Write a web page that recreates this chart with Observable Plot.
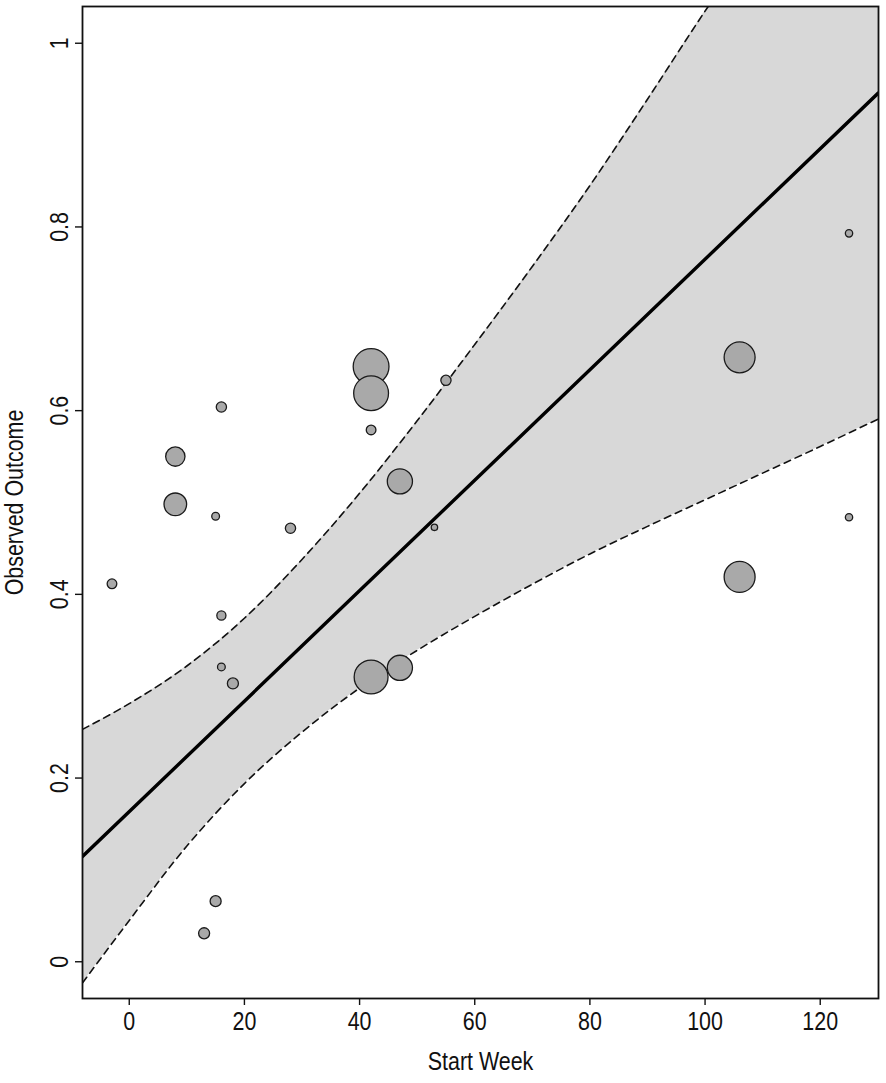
<!DOCTYPE html>
<html>
<head>
<meta charset="utf-8">
<script src="https://cdn.jsdelivr.net/npm/d3@7"></script>
<script src="https://cdn.jsdelivr.net/npm/@observablehq/plot@0.6"></script>
<style>
  html, body { margin: 0; padding: 0; background: #fff; }
</style>
</head>
<body>
<div id="chart"></div>
<script>
// Studies: start week, observed outcome, weight (%)
const startWeek = [-3, 16, 8, 8, 15, 28, 42, 42, 42, 55, 47, 53, 16, 16, 18, 42, 47, 15, 13, 106, 106, 125, 125];
const observed  = [0.4115, 0.604, 0.550, 0.498, 0.485, 0.472, 0.648, 0.619, 0.579, 0.633, 0.523, 0.473, 0.377, 0.321, 0.303, 0.310, 0.320, 0.066, 0.031, 0.658, 0.419, 0.793, 0.484];
const weightPct = [0.73, 0.82, 2.92, 4.0, 0.47, 0.82, 10.0, 9.47, 0.73, 0.82, 4.94, 0.32, 0.65, 0.47, 0.95, 8.95, 4.94, 0.95, 0.95, 7.48, 7.48, 0.42, 0.42];

// Confidence band
const bandX     = [-8.12, 0, 10, 20, 30, 40, 50, 60, 70, 80, 90, 100, 110, 120, 130.12];
const bandUpper = [0.253, 0.281, 0.322, 0.374, 0.438, 0.510, 0.589, 0.672, 0.757, 0.845, 0.939, 1.035, 1.126, 1.217, 1.310];
const bandLower = [-0.023, 0.045, 0.126, 0.194, 0.250, 0.298, 0.339, 0.376, 0.411, 0.444, 0.474, 0.503, 0.532, 0.561, 0.591];

// Fitted regression line
const fitX = [-8.12, 130.12];
const fitY = [0.1146, 0.946];

const xTicks = [0, 20, 40, 60, 80, 100, 120];
const yTicks = [0, 0.2, 0.4, 0.6, 0.8, 1];
const yTickLabels = ["0", "0.2", "0.4", "0.6", "0.8", "1"];
const xDomain = [-8.12, 130.12];
const yDomain = [-0.04, 1.04];
const xTitle = "Start Week";
const yTitle = "Observed Outcome";

const studies = startWeek.map((x, i) => ({x, y: observed[i], w: weightPct[i]}));
const band = bandX.map((x, i) => ({x, lo: bandLower[i], hi: bandUpper[i]}));
const fit = fitX.map((x, i) => ({x, y: fitY[i]}));
const yLab = yTicks.map((v, i) => ({v, t: yTickLabels[i]}));

const chart = Plot.plot({
  width: 886,
  height: 1083,
  marginLeft: 82,
  marginRight: 8,
  marginTop: 6,
  marginBottom: 85,
  style: {
    fontFamily: '"Liberation Sans", Arial, Helvetica, sans-serif',
    fontSize: "25.5px",
    color: "#111",
    background: "#fff"
  },
  x: {domain: xDomain},
  y: {domain: yDomain},
  r: {type: "sqrt", domain: [0, 10], range: [0, 17.9]},
  marks: [
    Plot.areaY(band, {x: "x", y1: "lo", y2: "hi", fill: "#d8d8d8", curve: "monotone-x", clip: true}),
    Plot.line(band, {x: "x", y: "hi", stroke: "#111", strokeWidth: 1.6, strokeDasharray: "7,5", curve: "monotone-x", clip: true}),
    Plot.line(band, {x: "x", y: "lo", stroke: "#111", strokeWidth: 1.6, strokeDasharray: "7,5", curve: "monotone-x", clip: true}),
    Plot.line(fit, {x: "x", y: "y", stroke: "#000", strokeWidth: 3.4, clip: true}),
    Plot.dot(studies, {x: "x", y: "y", r: "w", fill: "#a9a9a9", fillOpacity: 1, stroke: "#1a1a1a", strokeWidth: 1.3}),
    Plot.axisX({ticks: xTicks, tickSize: 7, tickPadding: 6, label: null, tickFormat: d => String(d), strokeWidth: 1.4}),
    Plot.axisY({ticks: yTicks, tickSize: 7, tickFormat: () => "", label: null, strokeWidth: 1.4}),
    Plot.text(yLab, {y: "v", text: "t", frameAnchor: "left", textAnchor: "middle", lineAnchor: "middle", dx: -23, rotate: -90}),
    Plot.text([yTitle], {text: d => d, frameAnchor: "left", textAnchor: "middle", lineAnchor: "middle", dx: -68, rotate: -90}),
    Plot.text([xTitle], {text: d => d, frameAnchor: "bottom", textAnchor: "middle", lineAnchor: "middle", dy: 63}),
    Plot.frame({stroke: "#111", strokeWidth: 1.8})
  ]
});

document.getElementById("chart").appendChild(chart);

// condense the glyphs (the reference uses a narrow sans-serif)
chart.querySelectorAll("text").forEach(t => {
  const s = (t.textContent || "").trim();
  if (!s) return;
  const L = t.getComputedTextLength();
  if (L > 0) {
    t.setAttribute("textLength", (L * 0.84).toFixed(2));
    t.setAttribute("lengthAdjust", "spacingAndGlyphs");
  }
});
</script>
</body>
</html>
